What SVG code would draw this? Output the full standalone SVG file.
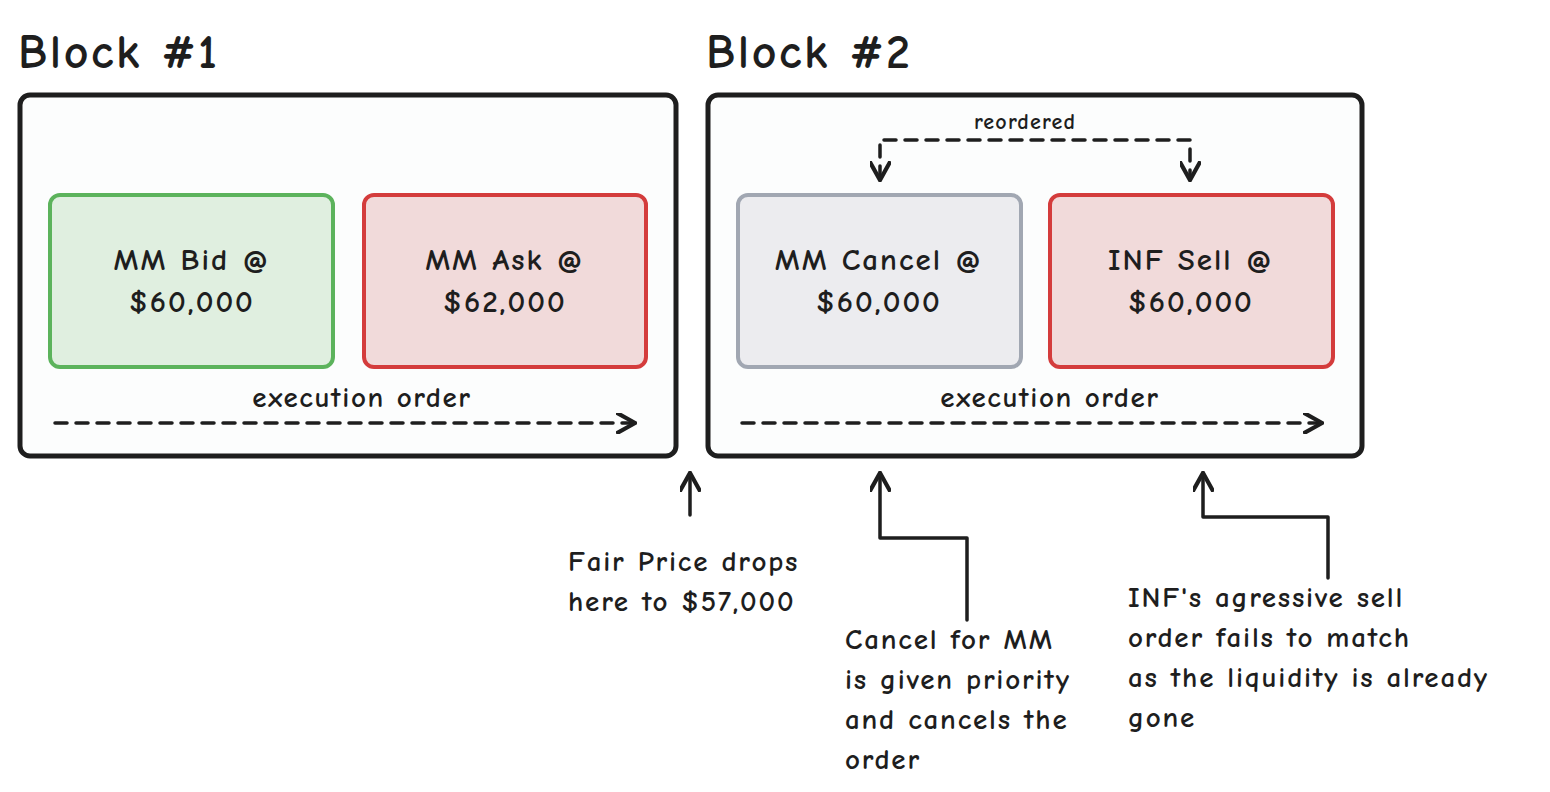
<svg xmlns="http://www.w3.org/2000/svg" width="1550" height="792" viewBox="0 0 1550 792">
<style>
text{font-family:"Comic Neue","Lato","Noto Sans",sans-serif;fill:#1e1e1e;font-weight:bold}
.t{font-size:48px;letter-spacing:2.5px}
.n{font-size:31px;text-anchor:middle;letter-spacing:2px}
.l{font-size:29px;letter-spacing:1.8px}
.lc{font-size:29px;text-anchor:middle;letter-spacing:1.6px}
.frame{fill:#fcfdfd;stroke:#1e1e1e;stroke-width:5}
.c{fill:none;stroke:#1e1e1e;stroke-width:3.5;stroke-linecap:round;stroke-linejoin:round}
.d{stroke-dasharray:12 9}
</style>
<defs>
<marker id="a" viewBox="0 0 10 10" refX="8" refY="5" markerWidth="6" markerHeight="6" orient="auto-start-reverse">
<path d="M0,0 L9,5 L0,10" fill="none" stroke="#1e1e1e" stroke-width="2"/>
</marker>
</defs>
<rect width="1550" height="792" fill="#fff"/>
<g id="block1">
<text class="t" x="18" y="68">Block #1</text>
<rect class="frame" x="20" y="95" width="656" height="361" rx="10"/>
</g>
<g id="block2">
<text class="t" x="706" y="68">Block #2</text>
<rect class="frame" x="708" y="95" width="654" height="361" rx="10"/>
</g>
<g id="bid">
<rect x="50" y="195" width="283" height="172" rx="10" fill="#e0efe0" stroke="#5cb35c" stroke-width="4"/>
<text class="n" x="192" y="270">MM Bid @</text><text class="n" x="192" y="312">$60,000</text>
</g>
<g id="ask">
<rect x="364" y="195" width="282" height="172" rx="10" fill="#f1dada" stroke="#d43c3c" stroke-width="4"/>
<text class="n" x="505" y="270">MM Ask @</text><text class="n" x="505" y="312">$62,000</text>
</g>
<g id="cancel">
<rect x="738" y="195" width="283" height="172" rx="10" fill="#ececef" stroke="#a1a7b2" stroke-width="4"/>
<text class="n" x="879" y="270">MM Cancel @</text><text class="n" x="879" y="312">$60,000</text>
</g>
<g id="sell">
<rect x="1050" y="195" width="283" height="172" rx="10" fill="#f1dada" stroke="#d43c3c" stroke-width="4"/>
<text class="n" x="1191" y="270">INF Sell @</text><text class="n" x="1191" y="312">$60,000</text>
</g>
<g id="labels">
<text class="lc" x="362" y="407">execution order</text>
<text class="lc" x="1050" y="407">execution order</text>
<text class="lc" x="1025" y="129" style="font-size:22px;letter-spacing:1.2px">reordered</text>
<text class="l" x="568" y="571">Fair Price drops</text>
<text class="l" x="568" y="611">here to $57,000</text>
<text class="l" x="845" y="649">Cancel for MM</text>
<text class="l" x="845" y="689">is given priority</text>
<text class="l" x="845" y="729">and cancels the</text>
<text class="l" x="845" y="769">order</text>
<text class="l" x="1128" y="607">INF's agressive sell</text>
<text class="l" x="1128" y="647">order fails to match</text>
<text class="l" x="1128" y="687">as the liquidity is already</text>
<text class="l" x="1128" y="727">gone</text>
</g>
<g id="connectors">
<path class="c d" d="M55,423 H633" marker-end="url(#a)"/>
<path class="c d" d="M742,423 H1320" marker-end="url(#a)"/>
<path class="c d" d="M880,178 V140 H1190 V178" marker-start="url(#a)" marker-end="url(#a)"/>
<path class="c" d="M690,515 V475" marker-end="url(#a)"/>
<path class="c" d="M967,620 V538 H880 V475" marker-end="url(#a)"/>
<path class="c" d="M1328,578 V517 H1203 V475" marker-end="url(#a)"/>
</g>
</svg>
